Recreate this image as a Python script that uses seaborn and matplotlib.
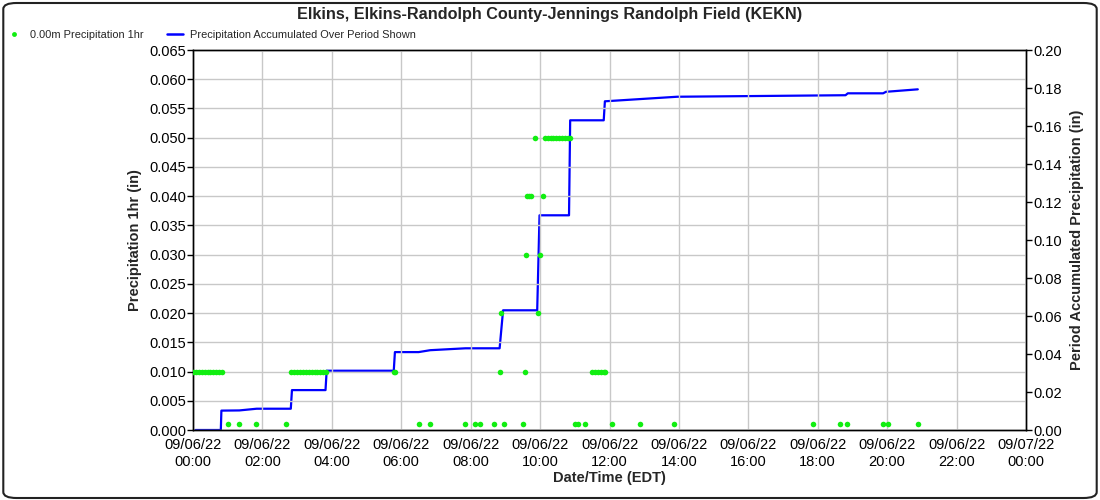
import pandas as pd
import numpy as np
import matplotlib
matplotlib.use("Agg")
import matplotlib.pyplot as plt
import matplotlib.dates as mdates
from matplotlib.patches import FancyBboxPatch
from matplotlib.lines import Line2D
import seaborn as sns

# hourly precip observations (minutes after 09/06/22 00:00, inches)
dot_minutes = [0, 5, 10, 15, 20, 25, 30, 35, 40, 45, 50,
               61, 80, 109, 161,
               170, 175, 180, 185, 190, 195, 200, 205, 210, 215, 220, 225, 230,
               347, 350,
               390, 410, 471, 488, 496, 521, 537, 570,
               530, 574,
               532, 596,
               575, 599,
               578, 581, 584, 605,
               591, 608, 613, 618, 623, 628, 633, 638, 643, 648, 652,
               661, 665, 677, 725, 772, 831, 1072, 1118, 1131, 1193, 1201, 1253,
               690, 695, 700, 705, 710, 713]
dot_values = [0.01] * 11 + [0.001] * 4 + [0.01] * 13 + [0.01] * 2 + \
             [0.001] * 8 + [0.01] * 2 + [0.02] * 2 + [0.03] * 2 + [0.04] * 4 + \
             [0.05] * 11 + [0.001] * 12 + [0.01] * 6

# accumulated precip over the period
acc_minutes = [4, 48, 49, 80, 110, 169, 171, 229, 231, 347, 349, 390, 410, 471,
               530, 536, 595, 599, 650, 652, 710, 712, 837, 1128, 1132, 1193,
               1198, 1253]
acc_values = [0.0, 0.0, 0.0102, 0.0103, 0.0112, 0.0112, 0.021, 0.021, 0.0312,
              0.0312, 0.041, 0.041, 0.042, 0.0430, 0.0430, 0.063, 0.063, 0.113,
              0.113, 0.163, 0.163, 0.173, 0.1754, 0.1762, 0.1772, 0.1772, 0.178,
              0.1793]

base = pd.Timestamp("2022-09-06 00:00")
dots = pd.DataFrame({"time": base + pd.to_timedelta(dot_minutes, unit="m"),
                     "precip": dot_values})
acc = pd.DataFrame({"time": base + pd.to_timedelta(acc_minutes, unit="m"),
                    "accum": acc_values})

sns.set_style("white")
plt.rcParams['font.family'] = ['Liberation Sans', 'DejaVu Sans']

fig = plt.figure(figsize=(11, 5), dpi=100)
ax = fig.add_axes([0.1755, 0.14, 0.7572, 0.76])
ax2 = ax.twinx()
# dots sit on top of the accumulation line
ax.set_zorder(ax2.get_zorder() + 1)
ax.patch.set_visible(False)

green = "#11ee11"
blue = "#0000ff"

sns.lineplot(data=acc, x="time", y="accum", ax=ax2, color=blue,
             linewidth=1.6, estimator=None, sort=False, legend=False)
sns.scatterplot(data=dots, x="time", y="precip", ax=ax, color=green,
                s=16, edgecolor=green, linewidth=0, zorder=3, legend=False)

ax.set_xlim(base, base + pd.Timedelta(hours=24))
ax.set_ylim(0, 0.065)
ax2.set_ylim(0, 0.20)
ax.set_yticks(np.arange(0, 0.0651, 0.005))
ax2.set_yticks(np.arange(0, 0.201, 0.02))
ax.yaxis.set_major_formatter(matplotlib.ticker.FormatStrFormatter("%.3f"))
ax2.yaxis.set_major_formatter(matplotlib.ticker.FormatStrFormatter("%.2f"))
ax.xaxis.set_major_locator(mdates.HourLocator(interval=2))
ax.xaxis.set_major_formatter(mdates.DateFormatter("%m/%d/%y\n%H:%M"))

ax.grid(True, color="#c8c8c8", linewidth=1, zorder=0)
ax2.grid(False)

for a in (ax, ax2):
    a.tick_params(axis="both", direction="out", length=4, width=1,
                  labelsize=10.5, colors="black", pad=1)
    for sp in a.spines.values():
        sp.set_color("black")
        sp.set_linewidth(1)
ax.tick_params(axis="x", pad=2)

ax.set_xlabel("Date/Time (EDT)", fontsize=10.5, fontweight="bold", labelpad=2)
ax.set_ylabel("Precipitation 1hr (in)", fontsize=10.5, fontweight="bold", labelpad=5)
ax2.set_ylabel("Period Accumulated Precipitation (in)", fontsize=10.5,
               fontweight="bold", labelpad=6)

fig.suptitle("Elkins, Elkins-Randolph County-Jennings Randolph Field (KEKN)",
             fontsize=11.7, fontweight="bold", y=0.985)

handles = [Line2D([], [], marker="o", linestyle="none", color=green,
                  markersize=3.5, markeredgewidth=0),
           Line2D([], [], color=blue, linewidth=1.8)]
fig.legend(handles, ["0.00m Precipitation 1hr",
                     "Precipitation Accumulated Over Period Shown"],
           loc="upper left", bbox_to_anchor=(-0.003, 0.96), ncol=2,
           frameon=False, fontsize=7.9, handlelength=1.4, handletextpad=0.7,
           columnspacing=2.2)

border = FancyBboxPatch((0.003, 0.004), 0.994, 0.99, transform=fig.transFigure,
                        boxstyle="round,pad=0,rounding_size=0.012",
                        fill=False, edgecolor="#222222", linewidth=1.5)
fig.patches.append(border)

fig.savefig("out.png", dpi=100)
plt.close(fig)
